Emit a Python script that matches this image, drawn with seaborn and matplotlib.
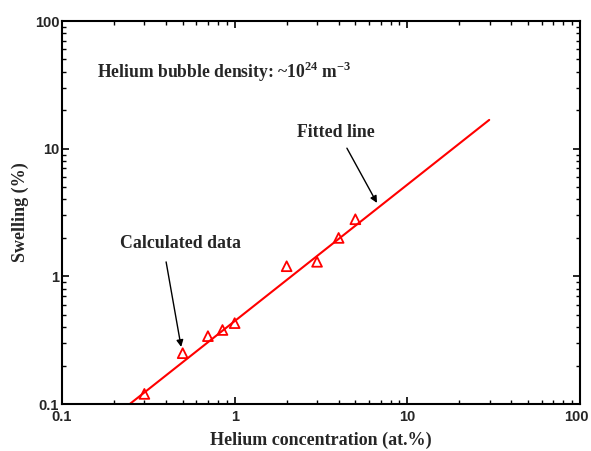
import numpy as np
import pandas as pd
import matplotlib
matplotlib.use("Agg")
import matplotlib.pyplot as plt
import matplotlib.transforms as mtransforms
import seaborn as sns

# Data
helium_conc = [0.3, 0.5, 0.7, 0.85, 1.0, 2.0, 3.0, 4.0, 5.0]
swelling = [0.12, 0.25, 0.34, 0.38, 0.43, 1.2, 1.3, 2.0, 2.8]
fit_x = [0.247, 29.8]
fit_a = 0.446   # swelling at 1 at.%
fit_b = 1.069   # log-log slope
x_ticks = [0.1, 1, 10, 100]
x_ticklabels = ["0.1", "1", "10", "100"]
y_ticks = [0.1, 1, 10, 100]
y_ticklabels = ["0.1", "1", "10", "100"]

sns.set_style("ticks")
plt.rcParams["font.family"] = ["Liberation Serif", "DejaVu Serif"]
plt.rcParams["mathtext.fontset"] = "custom"
plt.rcParams["mathtext.rm"] = "Liberation Serif"
plt.rcParams["mathtext.bf"] = "Liberation Serif:bold"

fig = plt.figure(figsize=(5.91, 4.51), dpi=100)
ax = fig.add_axes([0.1049, 0.1042, 0.8765, 0.8492])

df = pd.DataFrame({"x": helium_conc, "y": swelling})
fx = np.array(fit_x)
fit_df = pd.DataFrame({"x": fx, "y": fit_a * fx ** fit_b})

sns.lineplot(data=fit_df, x="x", y="y", ax=ax, color="#ff0000", linewidth=1.5)
sns.scatterplot(data=df, x="x", y="y", ax=ax, marker="^", s=50,
                facecolors="none", edgecolor="#ff0000", linewidth=1.3)

ax.set_xscale("log")
ax.set_yscale("log")
ax.set_xlim(0.1, 100)
ax.set_ylim(0.1, 100)
ax.set_xticks(x_ticks)
ax.set_xticklabels(x_ticklabels)
ax.set_yticks(y_ticks)
ax.set_yticklabels(y_ticklabels)
for lab in ax.get_xticklabels() + ax.get_yticklabels():
    lab.set_fontfamily(["Liberation Sans", "DejaVu Sans"])
    lab.set_fontweight("bold")
    lab.set_fontsize(10.5)

ax.tick_params(which="both", direction="in", top=True, right=True, color="black")
ax.tick_params(which="major", length=5, width=1.2)
ax.tick_params(which="minor", length=3, width=1.0)
ax.tick_params(axis="x", which="major", pad=4)
ax.tick_params(axis="y", which="major", pad=2)
for s in ax.spines.values():
    s.set_linewidth(1.5)
    s.set_color("black")

# nudge the last x tick label so it stays inside the figure
last = ax.get_xticklabels()[-1]
last.set_transform(last.get_transform() +
                   mtransforms.ScaledTranslation(-4 / 100, 0, fig.dpi_scale_trans))

ax.set_xlabel("Helium concentration (at.%)", fontsize=13, fontweight="bold", labelpad=6)
ax.set_ylabel("Swelling (%)", fontsize=13, fontweight="bold", labelpad=4)

ax.text(0.068, 0.867, r"Helium bubble density: ~10$^{\mathbf{24}}$ m$^{\mathbf{-3}}$",
        transform=ax.transAxes, fontsize=12.7, fontweight="bold", va="center", ha="left")

ax.text(0.529, 0.710, "Fitted line", transform=ax.transAxes,
        fontsize=12.8, fontweight="bold", ha="center", va="center")
ax.annotate("", xy=(0.608, 0.525), xytext=(0.550, 0.668),
            xycoords="axes fraction", textcoords="axes fraction",
            arrowprops=dict(arrowstyle="-|>", color="black", lw=1.0,
                            shrinkA=0, shrinkB=0, mutation_scale=10))

ax.text(0.228, 0.420, "Calculated data", transform=ax.transAxes,
        fontsize=12.8, fontweight="bold", ha="center", va="center")
ax.annotate("", xy=(0.230, 0.149), xytext=(0.201, 0.371),
            xycoords="axes fraction", textcoords="axes fraction",
            arrowprops=dict(arrowstyle="-|>", color="black", lw=1.0,
                            shrinkA=0, shrinkB=0, mutation_scale=10))

fig.savefig("out.png", dpi=100)
